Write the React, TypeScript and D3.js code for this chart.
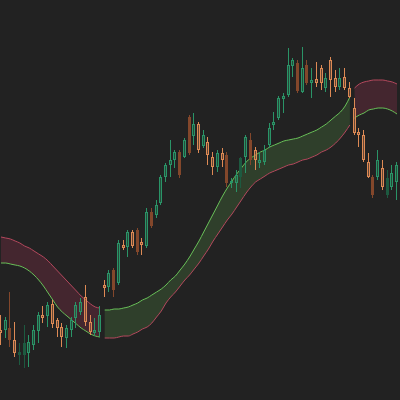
import React from "react";
import * as d3 from "d3";

// Candle data (price units)
const opens = [70,70,72,60,45,45,47,55,69,85,84,96,80,73,62,70,82,88,103,78,67,68,115,113,130,117,155,153,168,170,158,154,188,185,197,223,235,240,248,243,283,264,276,254,258,243,233,247,245,217,217,223,243,260,250,237,238,255,275,282,301,305,334,337,308,335,317,321,332,312,340,322,313,323,312,292,268,265,238,223,223,232,205,213,218];
const highs = [85,83,108,78,57,75,65,75,88,94,98,100,82,77,75,83,98,102,115,85,82,94,120,130,132,160,160,170,170,172,162,192,192,200,225,237,260,250,250,262,285,287,278,270,263,248,250,252,248,222,230,243,265,267,253,248,255,277,288,304,307,352,342,340,353,340,332,338,335,327,343,330,332,332,318,302,272,270,247,225,250,240,230,235,238];
const lows = [55,62,53,43,35,32,33,50,57,77,73,72,63,53,52,63,72,85,74,65,64,63,103,108,103,115,150,143,152,145,145,152,172,182,195,218,223,232,222,242,245,255,247,252,235,225,228,233,213,212,208,212,227,235,230,232,235,252,270,280,287,303,323,307,307,315,302,313,310,308,303,308,310,310,302,265,253,238,222,202,220,210,202,210,200];
const closes = [67,80,60,47,48,57,58,70,85,82,95,76,72,63,72,80,95,98,78,68,70,85,112,127,110,157,152,168,154,148,155,188,174,195,223,235,240,248,225,260,247,276,250,265,245,233,247,240,217,219,225,242,263,240,240,240,250,272,278,302,304,335,340,309,332,317,320,317,317,322,320,313,322,312,303,267,265,240,223,205,240,213,222,227,235];
// 1 = hollow body, 0 = filled body
const hollow = [1,1,0,1,0,0,1,1,1,1,1,1,1,1,1,1,1,1,1,1,1,1,1,1,0,1,1,1,1,0,1,1,0,1,1,1,1,1,0,1,0,1,1,1,1,1,1,1,0,1,1,0,1,0,1,1,1,1,1,1,1,1,1,0,1,0,1,1,1,1,1,1,1,1,1,1,1,1,1,0,1,1,0,1,1];

// Band lines (price units)
const upperBand = [163,162,161,159,157,154,152,149,146,143,139,134,129,124,119,114,109,104,100,96,93,92,
  90,90,91,91,92,93,95,97,100,102,105,108,111,115,120,124,130,136,143,151,159,168,177,186,195,204,212,219,226,232,238,242,245,248,250,253,255,257,259,260,261,262,264,266,268,270,273,276,280,284,288,294,303,
  312,316,318,319,320,320,320,319,318,316];
const lowerBand = [137,137,136,135,134,132,129,125,120,114,107,100,93,88,84,80,76,72,69,66,64,63,
  62,62,62,63,64,64,66,68,71,73,77,83,89,97,103,108,114,120,125,131,137,144,151,159,166,173,180,186,193,200,207,213,218,221,224,227,229,231,233,235,236,238,240,241,243,245,248,250,253,257,262,268,275,
  282,285,287,290,291,292,292,291,289,286];
// Trend regimes: [fromIndex, toIndex, direction]
const regimes: [number, number, string][] = [[0, 21, "bear"], [22, 74, "bull"], [75, 84, "bear"]];

const W = 400, H = 400;
const BG = "#222222";
const GREEN = "#2a9467", GREEN_DIM = "#1d5a40";
const ORANGE = "#de8a55", ORANGE_DIM = "#83472b";
const LINE_GREEN = "#68c058", LINE_RED = "#b4485d";
const FILL_GREEN = "#5d9e4c", FILL_RED = "#a23456";

export default function App() {
  const N = closes.length;
  const x = d3.scaleLinear().domain([0, N - 1]).range([1, 397]);
  const y = d3.scaleLinear().domain([0, 400]).range([H, 0]);

  const area = d3.area<number>().x(i => x(i)).y0(i => y(lowerBand[i])).y1(i => y(upperBand[i])).curve(d3.curveMonotoneX);
  const upLine = d3.line<number>().x(i => x(i)).y(i => y(upperBand[i])).curve(d3.curveMonotoneX);
  const loLine = d3.line<number>().x(i => x(i)).y(i => y(lowerBand[i])).curve(d3.curveMonotoneX);

  return (
    <svg width={W} height={H} style={{ position: "fixed", left: 0, top: 0, display: "block" }}>
      <rect x={0} y={0} width={W} height={H} fill={BG} />
      {regimes.map(([a, b, dir], k) => {
        const idx = d3.range(a, b + 1);
        const bull = dir === "bull";
        return (
          <g key={k}>
            <path d={area(idx) || ""} fill={bull ? FILL_GREEN : FILL_RED} fillOpacity={bull ? 0.24 : 0.27} />
            <path d={upLine(idx) || ""} fill="none" stroke={bull ? LINE_GREEN : LINE_RED} strokeWidth={1} />
            <path d={loLine(idx) || ""} fill="none" stroke={bull ? LINE_RED : LINE_GREEN} strokeWidth={1} />
          </g>
        );
      })}
      <g shapeRendering="crispEdges">
        {closes.map((c, i) => {
          const o = opens[i];
          const up = c >= o;
          const cx = Math.round(x(i));
          const top = Math.round(y(Math.max(o, c)));
          const bot = Math.max(top + 1, Math.round(y(Math.min(o, c))));
          const hi = Math.round(y(highs[i]));
          const lo = Math.round(y(lows[i]));
          if (hollow[i]) {
            const col = up ? GREEN : ORANGE;
            const h = bot - top;
            const body = h > 2
              ? `M${cx - 2},${top}h3v${h}h-3z M${cx - 1},${top + 1}v${h - 2}h1v${-(h - 2)}z`
              : `M${cx - 2},${top}h3v${h}h-3z`;
            return (
              <g key={i} fill={col}>
                <rect x={cx - 1} y={hi} width={1} height={Math.max(0, top - hi)} />
                <rect x={cx - 1} y={bot} width={1} height={Math.max(0, lo - bot)} />
                {h > 2 && <rect x={cx - 1} y={top + 1} width={1} height={h - 2} fillOpacity={0.35} />}
                <path d={body} fillRule="evenodd" />
              </g>
            );
          }
          const col = up ? GREEN_DIM : ORANGE_DIM;
          return (
            <g key={i} fill={col}>
              <rect x={cx - 1} y={hi} width={1} height={Math.max(1, lo - hi)} />
              <rect x={cx - 2} y={top} width={3} height={bot - top} />
            </g>
          );
        })}
      </g>
    </svg>
  );
}
